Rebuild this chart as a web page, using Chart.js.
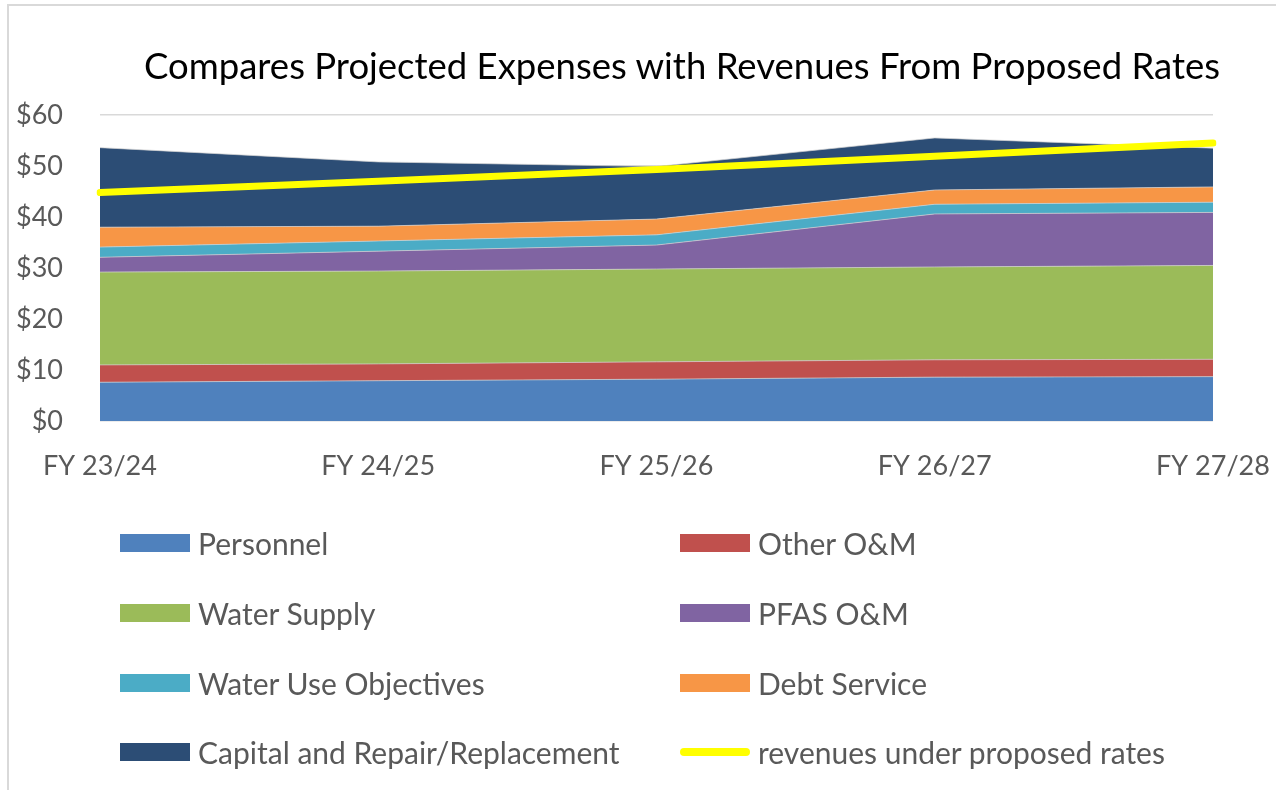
<!DOCTYPE html>
<html>
<head>
<meta charset="utf-8">
<script src="https://cdn.jsdelivr.net/npm/chart.js@4.4.1/dist/chart.umd.min.js"></script>
<style>
  html, body { margin: 0; padding: 0; background: #fff; }
  #wrap { position: relative; width: 1276px; height: 790px; overflow: hidden; font-family: Lato, "Open Sans", sans-serif; }
  #frame { position: absolute; left: 7px; top: 4px; width: 1400px; height: 900px; border-top: 2px solid #d9d9d9; border-left: 2px solid #d9d9d9; }
  #title { position: absolute; left: 0; width: 1364px; top: 41px; text-align: center; font-size: 36.5px; color: #000; white-space: nowrap; line-height: 48px; }
  canvas { position: absolute; left: 0; top: 0; }
  .lg { position: absolute; height: 40px; display: flex; align-items: center; font-size: 30px; color: #595959; white-space: nowrap; }
  .sw { width: 70px; height: 18px; margin-right: 8px; flex: none; }
  .ln { width: 70px; height: 8px; border-radius: 4px; margin-right: 8px; flex: none; }
</style>
</head>
<body>
<div id="wrap">
  <div id="frame"></div>
  <canvas id="c" width="1276" height="790"></canvas>
  <div id="title">Compares Projected Expenses with Revenues From Proposed Rates</div>
  <div id="legend"></div>
</div>
<script>
const categories = ["FY 23/24", "FY 24/25", "FY 25/26", "FY 26/27", "FY 27/28"];
const personnel        = [7.6, 7.9, 8.2, 8.6, 8.7];
const otherOM          = [3.4, 3.3, 3.4, 3.4, 3.4];
const waterSupply      = [18.2, 18.2, 18.2, 18.2, 18.4];
const pfasOM           = [2.9, 3.9, 4.7, 10.4, 10.4];
const waterUseObj      = [2.0, 2.0, 2.0, 1.9, 2.0];
const debtService      = [3.9, 2.9, 3.1, 2.8, 3.0];
const capitalRepair    = [15.6, 12.6, 10.3, 10.2, 7.6];
const revenuesProposed = [44.8, 47.0, 49.3, 51.9, 54.5];
const yTicks = [0, 10, 20, 30, 40, 50, 60];

const areaSeries = [
  { name: "Personnel", data: personnel, color: "#4F81BD" },
  { name: "Other O&M", data: otherOM, color: "#C0504D" },
  { name: "Water Supply", data: waterSupply, color: "#9BBB59" },
  { name: "PFAS O&M", data: pfasOM, color: "#8064A2" },
  { name: "Water Use Objectives", data: waterUseObj, color: "#4BACC6" },
  { name: "Debt Service", data: debtService, color: "#F79646" },
  { name: "Capital and Repair/Replacement", data: capitalRepair, color: "#2C4D75" }
];
const lineSeries = { name: "revenues under proposed rates", data: revenuesProposed, color: "#FFFF00" };

const datasets = areaSeries.map((s, i) => ({
  label: s.name,
  data: s.data,
  backgroundColor: s.color,
  borderColor: "rgba(210,210,210,0.7)",
  borderWidth: 1,
  fill: i === 0 ? "origin" : "-1",
  pointRadius: 0,
  tension: 0,
  stack: "exp"
}));
datasets.push({
  label: lineSeries.name,
  data: lineSeries.data,
  borderColor: lineSeries.color,
  backgroundColor: lineSeries.color,
  borderWidth: 7,
  borderCapStyle: "round",
  fill: false,
  pointRadius: 0,
  tension: 0,
  stack: "rev",
  order: -1
});

new Chart(document.getElementById("c"), {
  type: "line",
  data: { labels: categories, datasets },
  options: {
    responsive: false,
    devicePixelRatio: 1,
    animation: false,
    layout: { padding: { left: 8, right: 63, top: 115, bottom: 0 } },
    plugins: { legend: { display: false }, title: { display: false }, tooltip: { enabled: false } },
    scales: {
      x: {
        grid: { display: false, drawTicks: false },
        border: { display: false },
        ticks: { color: "#595959", font: { family: "Lato", size: 27 }, padding: 29, maxRotation: 0, autoSkip: false },
        afterFit: (s) => { s.height = 369; s.paddingLeft = 0; s.paddingRight = 0; }
      },
      y: {
        stacked: true,
        min: 0, max: 60,
        afterBuildTicks: (s) => { s.ticks = yTicks.map(v => ({ value: v })); },
        grid: { color: "#d9d9d9", lineWidth: 1.5, drawTicks: false },
        border: { display: false },
        ticks: { color: "#595959", font: { family: "Lato", size: 27 }, padding: 37, callback: (v) => "$" + v },
        afterFit: (s) => { s.width = 92; s.paddingTop = 0; s.paddingBottom = 0; }
      }
    }
  }
});

// HTML legend built from series arrays
const legendItems = areaSeries.map(s => ({ name: s.name, color: s.color, line: false }))
  .concat([{ name: lineSeries.name, color: lineSeries.color, line: true }]);
const colX = [120, 680];
const rowY = [543, 613, 683, 752];
const lg = document.getElementById("legend");
legendItems.forEach((it, i) => {
  const d = document.createElement("div");
  d.className = "lg";
  d.style.left = colX[i % 2] + "px";
  d.style.top = (rowY[Math.floor(i / 2)] - 20) + "px";
  const sw = document.createElement("div");
  sw.className = it.line ? "ln" : "sw";
  sw.style.background = it.color;
  const t = document.createElement("span");
  t.textContent = it.name;
  d.appendChild(sw); d.appendChild(t);
  lg.appendChild(d);
});
</script>
</body>
</html>
